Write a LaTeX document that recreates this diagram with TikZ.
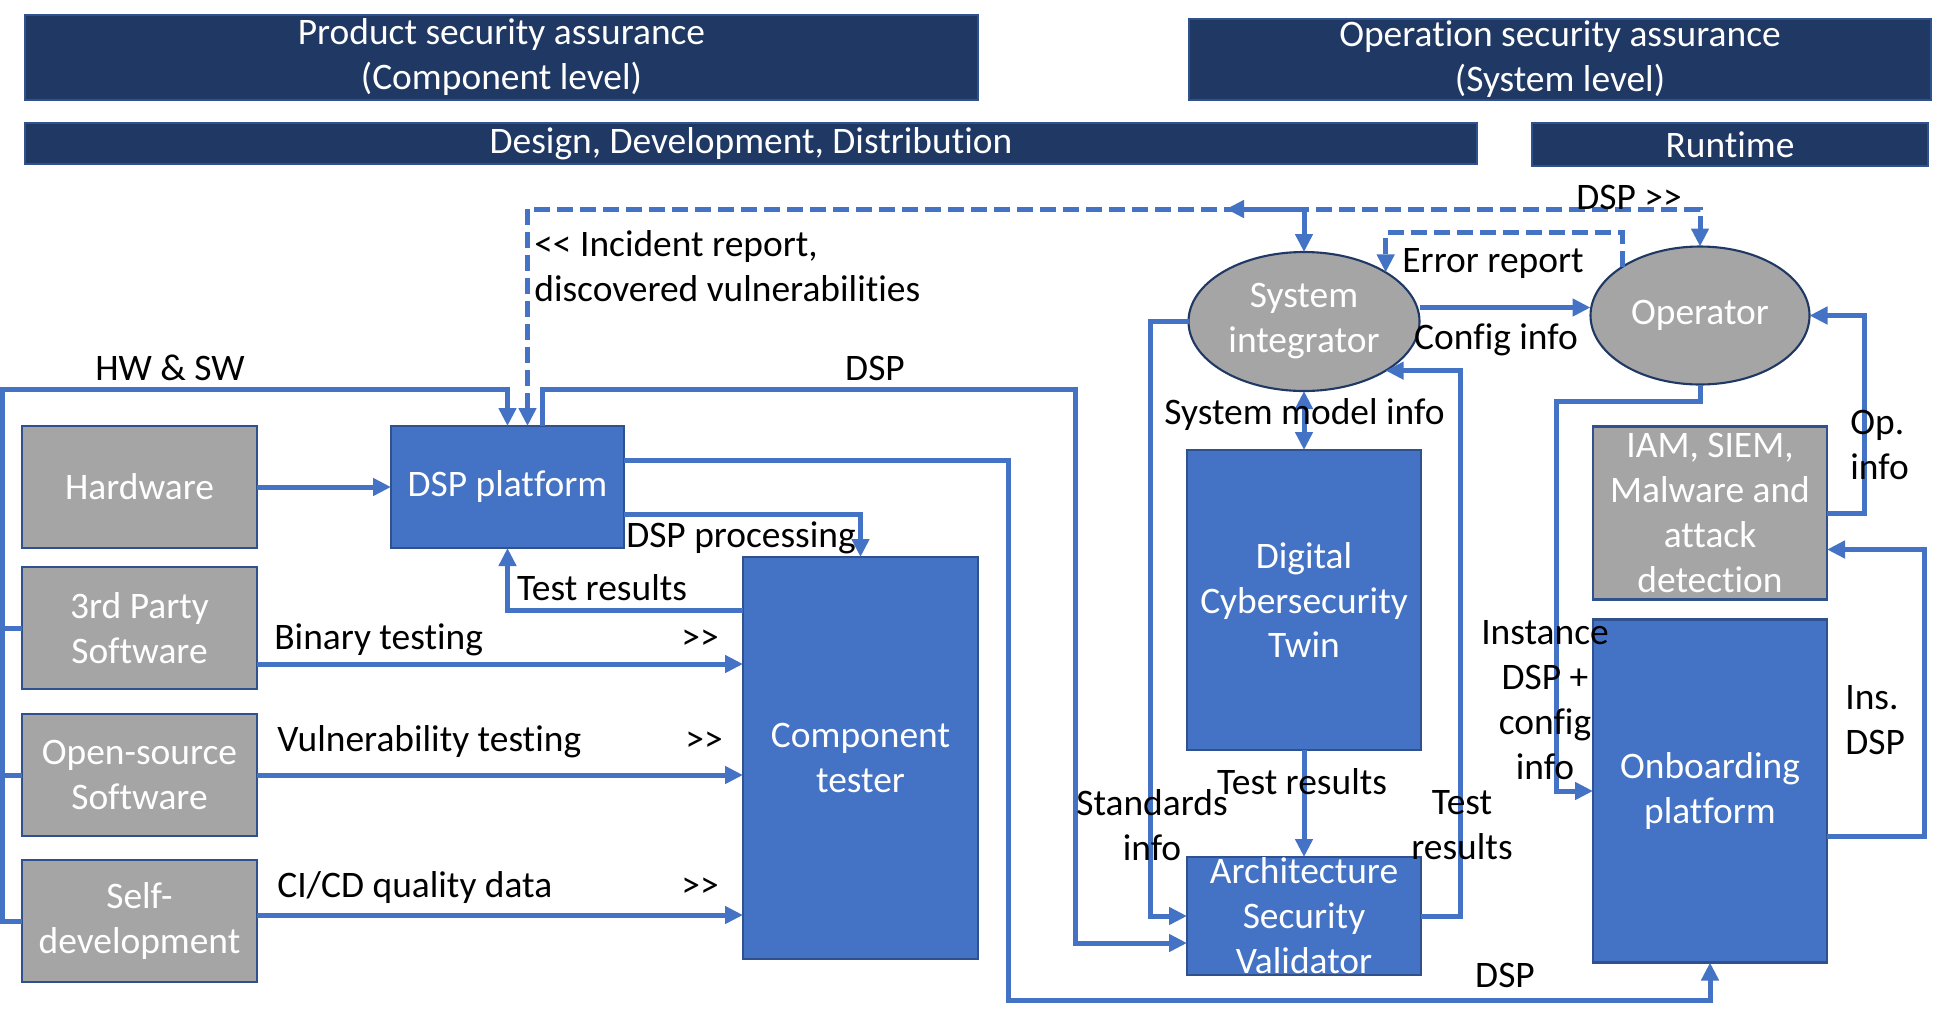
\documentclass[tikz,border=0pt]{standalone}
\usepackage{fontspec}
\setmainfont{Carlito}[Ligatures=NoCommon]
\usepackage{xcolor}
\usepackage{tikz}
\usetikzlibrary{shapes.geometric, arrows.meta, positioning}

\definecolor{navy}{HTML}{203864}
\definecolor{officeblue}{HTML}{4472C4}
\definecolor{edgeblue}{HTML}{2F528F}
\definecolor{boxgrey}{HTML}{A5A5A5}
\newcommand{\diafont}{\fontsize{21.3}{25.6}\selectfont}

\begin{document}
\begin{tikzpicture}[
    font=\diafont,
    >={Triangle[length=3.6mm, width=3.4mm]},
    banner/.style={rectangle, draw=edgeblue, fill=navy, text=white, align=center, inner sep=0pt, outer sep=0pt, line width=1pt},
    block/.style={rectangle, draw=edgeblue, fill=officeblue, text=white, align=center, inner sep=0pt, outer sep=0pt, line width=1.2pt},
    greyblock/.style={block, fill=boxgrey, minimum width=4.7cm, minimum height=2.44cm},
    actor/.style={ellipse, draw=navy, fill=boxgrey, text=white, align=center, inner sep=0pt, outer sep=0pt, line width=1.2pt},
    link/.style={line width=1mm, draw=officeblue},
    arrow/.style={link, ->},
    biarrow/.style={link, <->},
    dashlink/.style={link, dash pattern=on 3.2mm off 1.4mm},
    lbl/.style={inner sep=0pt, align=center},
]
    \useasboundingbox (0,0) rectangle (39.06,-20.4);

    \node[banner, minimum width=19.06cm, minimum height=1.7cm] (prodsec) at (10.03,-1.15) {Product security assurance\\(Component level)};
    \node[banner, minimum width=14.84cm, minimum height=1.62cm] (opsec) at (31.2,-1.19) {Operation security assurance\\(System level)};
    \node[banner, minimum width=29.04cm, minimum height=0.82cm] (design) at (15.02,-2.87) {Design, Development, Distribution};
    \node[banner, minimum width=7.92cm, minimum height=0.86cm] (runtime) at (34.6,-2.89) {Runtime};

    \node[greyblock] (hardware) at (2.79,-9.74) {Hardware};
    \node[greyblock, below=0.38cm of hardware] (thirdparty) {3rd Party\\Software};
    \node[greyblock, below=0.5cm of thirdparty] (opensource) {Open-source\\Software};
    \node[greyblock, below=0.48cm of opensource] (selfdev) {Self-\\development};
    \node[block, minimum width=4.66cm, minimum height=2.44cm, right=2.68cm of hardware] (dsp) {DSP platform};
    \node[block, minimum width=4.7cm, minimum height=8.04cm, below right=0.18cm and 2.38cm of dsp] (ctester) {Component\\tester};

    \node[block, minimum width=4.68cm, minimum height=6cm] (dct) at (26.08,-12) {Digital\\Cybersecurity\\Twin};
    \node[block, minimum width=4.68cm, minimum height=2.36cm, inner ysep=-1mm, below=2.14cm of dct] (asv) {Architecture\\Security\\Validator};
    \node[actor, minimum width=4.62cm, minimum height=2.78cm, above=1.18cm of dct] (si) {System\\integrator};
    \node[actor, minimum width=4.38cm, minimum height=2.76cm, right=3.42cm of si, yshift=0.12cm] (operator) {Operator};
    \node[greyblock, minimum width=4.68cm, minimum height=3.46cm, below=0.84cm of operator, xshift=0.2cm] (iam) {IAM, SIEM,\\Malware and\\attack\\detection};
    \node[block, minimum width=4.68cm, minimum height=6.86cm, below=0.4cm of iam] (onboarding) {Onboarding\\platform};

    \draw[arrow] (hardware) -- (dsp);
    \draw[arrow] (selfdev.west) -- ++(-0.38,0) |- ([yshift=0.74cm]dsp.north) -- (dsp.north);
    \draw[link] (thirdparty.west) -- ++(-0.38,0);
    \draw[link] (opensource.west) -- ++(-0.38,0);
    \draw[dashlink, <->] ([xshift=0.4cm]dsp.north) -- ++(0,4.34) -| (operator.north);
    \coordinate (sitap) at ([yshift=0.86cm]si.north);
    \coordinate (sileft) at ([xshift=-1.56cm]sitap);
    \draw[arrow] (sitap) -- (si.north);
    \draw[arrow] (sitap) -- (sileft);
    \draw[dashlink, ->] (operator.north west) -- ++(0,0.68) -| (si.north east);
    \draw[arrow] ([yshift=0.28cm]si.east) -- ([yshift=0.28cm]si.east -| operator.west);
    \draw[arrow] (si.west) -- ++(-0.76,0) |- (asv.west);
    \draw[arrow] ([xshift=0.7cm]dsp.north) -- ++(0,0.74) -- ++(10.66,0) |- ([yshift=-0.54cm]asv.west);
    \draw[arrow] (asv.east) -- ++(0.78,0) |- (si.south east);
    \draw[biarrow] (si.south) -- (si.south |- dct.north);
    \draw[arrow] (dct) -- (asv);
    \draw[arrow] (operator.south) -- ++(0,-0.34) -- ++(-2.88,0) |- (onboarding.west);
    \draw[arrow] (iam.east) -- ++(0.74,0) |- (operator.east);
    \draw[arrow] ([yshift=-0.91cm]onboarding.east) -- ++(1.94,0) |- ([yshift=-0.73cm]iam.east);
    \draw[arrow] ([yshift=0.54cm]dsp.east) -- ++(7.68,0) -- ++(0,-10.8) -| (onboarding.south);
    \draw[arrow] ([yshift=-0.54cm]dsp.east) -| (ctester.north);
    \draw[arrow] ([yshift=2.96cm]ctester.west) -| (dsp.south);
    \draw[arrow] ([yshift=-0.72cm]thirdparty.east) -- ([yshift=-0.72cm]thirdparty.east -| ctester.west);
    \draw[arrow] (opensource.east) -- (opensource.east -| ctester.west);
    \draw[arrow] ([yshift=0.12cm]selfdev.east) -- ([yshift=0.12cm]selfdev.east -| ctester.west);

    \node[lbl] (hwsw) at (3.4,-7.36) {HW \& SW};
    \node[lbl, anchor=west, align=left] (incident) at (10.68,-5.32) {<\kern0pt< Incident report,\\discovered vulnerabilities};
    \node[lbl] (dsplabel) at (17.5,-7.36) {DSP};
    \node[lbl] (proclabel) at (14.82,-10.76) {DSP processing};
    \node[lbl] (ctresults) at (12.04,-11.76) {Test results};
    \node[lbl, anchor=west] (binary) at (5.48,-12.8) {Binary testing};
    \node[lbl] (binarygt) at (14,-12.8) {>\kern0pt>};
    \node[lbl, anchor=west] (vuln) at (5.54,-14.84) {Vulnerability testing};
    \node[lbl] (vulngt) at (14.08,-14.84) {>\kern0pt>};
    \node[lbl, anchor=west] (cicd) at (5.54,-17.76) {CI/CD quality data};
    \node[lbl] (cicdgt) at (14,-17.76) {>\kern0pt>};
    \node[lbl] (dspgt) at (32.58,-3.94) {DSP >\kern0pt>};
    \node[lbl] (errrep) at (29.86,-5.26) {Error report};
    \node[lbl] (cfg) at (29.92,-6.8) {Config info};
    \node[lbl] (sysmodel) at (26.09,-8.3) {System model info};
    \node[lbl] (dctresults) at (26.04,-15.64) {Test results};
    \node[lbl] (standards) at (23.04,-16.5) {Standards\\info};
    \node[lbl] (asvresults) at (29.24,-16.5) {Test\\results};
    \node[lbl] (instance) at (30.9,-14) {Instance\\DSP +\\config\\info};
    \node[lbl, anchor=west, align=left] (opinfo) at (37,-8.9) {Op.\\info};
    \node[lbl, anchor=west, align=left] (insdsp) at (36.9,-14.4) {Ins.\\DSP};
    \node[lbl] (dspbottom) at (30.1,-19.5) {DSP};
\end{tikzpicture}
\end{document}
